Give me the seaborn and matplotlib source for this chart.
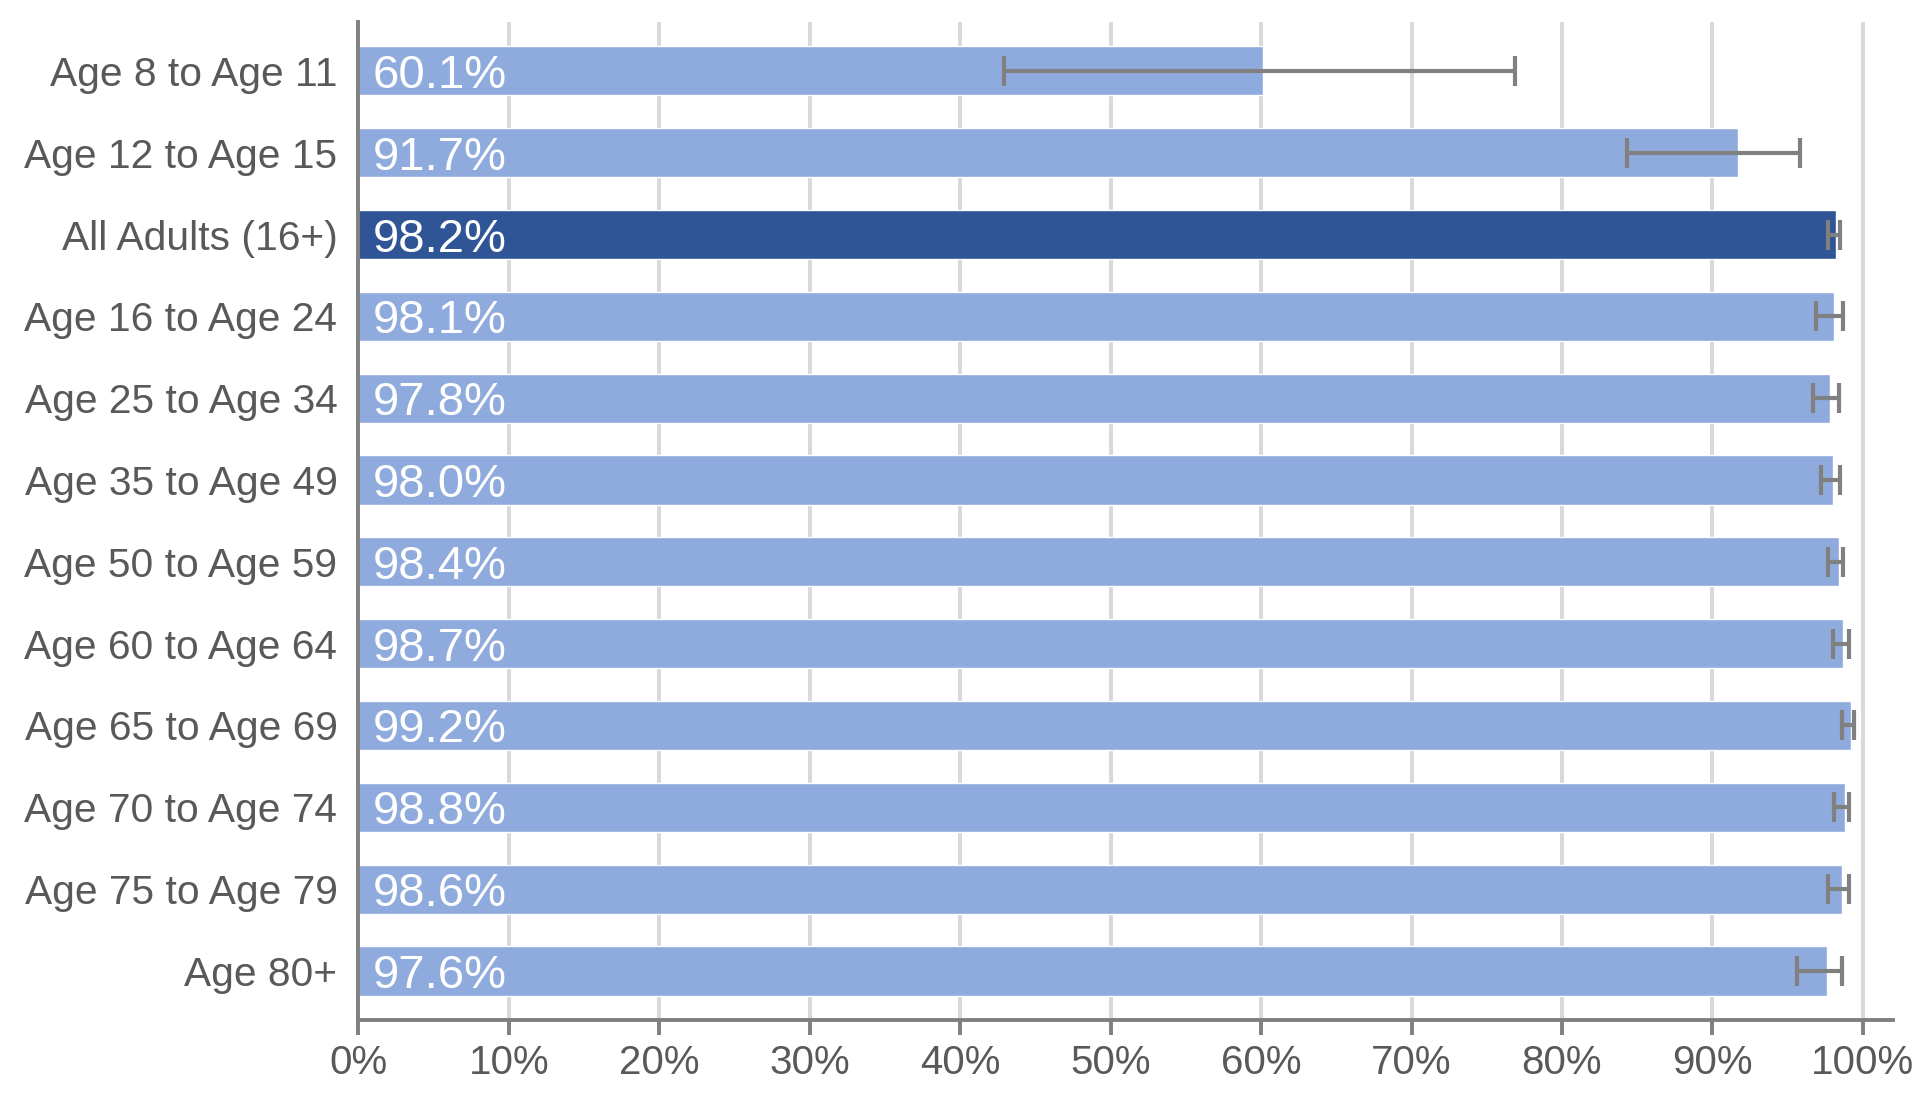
import matplotlib
matplotlib.use("Agg")
import matplotlib.pyplot as plt
import seaborn as sns
import pandas as pd

categories = ["Age 8 to Age 11", "Age 12 to Age 15", "All Adults (16+)",
              "Age 16 to Age 24", "Age 25 to Age 34", "Age 35 to Age 49",
              "Age 50 to Age 59", "Age 60 to Age 64", "Age 65 to Age 69",
              "Age 70 to Age 74", "Age 75 to Age 79", "Age 80+"]
values = [60.1, 91.7, 98.2, 98.1, 97.8, 98.0, 98.4, 98.7, 99.2, 98.8, 98.6, 97.6]
ci_low = [42.9, 84.3, 97.7, 96.9, 96.7, 97.2, 97.7, 98.0, 98.6, 98.1, 97.7, 95.6]
ci_high = [76.9, 95.8, 98.5, 98.7, 98.4, 98.5, 98.7, 99.1, 99.4, 99.1, 99.1, 98.6]
x_ticks = [0, 10, 20, 30, 40, 50, 60, 70, 80, 90, 100]
x_tick_labels = [f"{t}%" for t in x_ticks]

light = "#8FAADC"
dark = "#2F5597"
colors = {c: (dark if c == "All Adults (16+)" else light) for c in categories}

df = pd.DataFrame({"category": categories, "value": values})

sns.set_theme(style="white")
plt.rcParams["font.family"] = ["Liberation Sans", "DejaVu Sans"]

fig = plt.figure(figsize=(19.16, 11.03), dpi=100)
ax = fig.add_axes([0.187, 0.0752, 0.801, 0.905])

sns.barplot(data=df, y="category", x="value", hue="category", palette=colors,
            order=categories, orient="h", width=0.6, legend=False, ax=ax,
            saturation=1, zorder=2)

ypos = ax.get_yticks()
xerr_lo = [v - l for v, l in zip(values, ci_low)]
xerr_hi = [h - v for v, h in zip(values, ci_high)]
ax.errorbar(values, ypos, xerr=[xerr_lo, xerr_hi], fmt="none",
            ecolor="#808080", elinewidth=3, capsize=11, capthick=3, zorder=3)

for y, v in zip(ypos, values):
    ax.text(0.95, y, f"{v:.1f}%", color="white", fontsize=34,
            va="center_baseline", ha="left", zorder=4)

ax.set_xlim(0, 102)
ax.set_ylim(11.6, -0.6)
ax.set_xticks(x_ticks)
ax.set_xticklabels(x_tick_labels)
ax.xaxis.grid(True, color="#D9D9D9", linewidth=2.9, zorder=0)
ax.yaxis.grid(False)
ax.set_axisbelow(True)
ax.set_xlabel("")
ax.set_ylabel("")

for s in ["top", "right"]:
    ax.spines[s].set_visible(False)
for s in ["left", "bottom"]:
    ax.spines[s].set_color("#808080")
    ax.spines[s].set_linewidth(2.8)

ax.tick_params(axis="x", which="both", bottom=True, length=11, width=2.8,
               color="#808080", labelsize=29, labelcolor="#595959", pad=6)
ax.tick_params(axis="y", which="both", left=False, labelsize=29.3,
               labelcolor="#595959", pad=9)
for lbl in ax.get_yticklabels():
    lbl.set_va("center_baseline")

fig.savefig("out.png", dpi=100)
